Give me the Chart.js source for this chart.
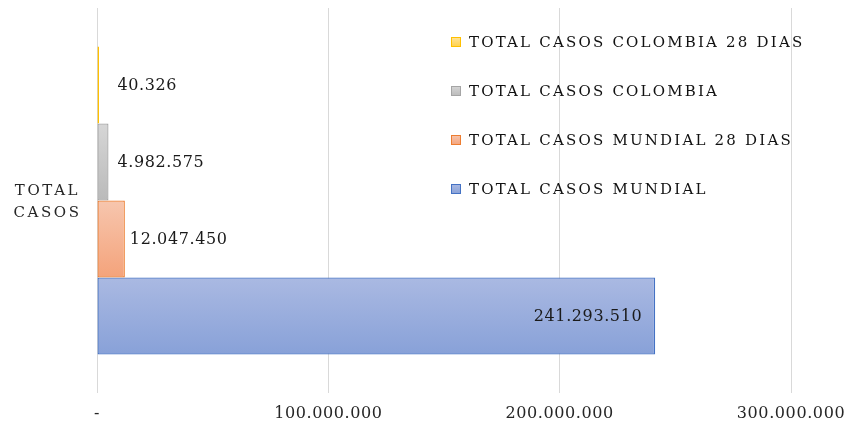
<!DOCTYPE html>
<html lang="es">
<head>
<meta charset="UTF-8">
<title>Total casos</title>
<script src="https://cdn.jsdelivr.net/npm/chart.js"></script>
<style>
  html, body { margin: 0; padding: 0; background: #fff; }
  #wrap { width: 848px; height: 425px; }
</style>
</head>
<body>
<div id="wrap"><canvas id="casosChart"></canvas></div>
<script>
  // datos
  const categorias = [['TOTAL', 'CASOS']];
  const series = ['TOTAL CASOS COLOMBIA 28 DIAS', 'TOTAL CASOS COLOMBIA', 'TOTAL CASOS MUNDIAL 28 DIAS', 'TOTAL CASOS MUNDIAL'];
  const valores = [40326, 4982575, 12047450, 241293510];
  const ejeMax = 300000000;
  const ejePaso = 100000000;

  // colores (borde, arriba y abajo del degradado)
  const bordes = ['#ffc000', '#a5a5a5', '#ed7d31', '#4472c4'];
  const arriba = ['#ffe59c', '#d6d6d6', '#f7c6ae', '#aab9e2'];
  const abajo = ['#ffd04a', '#bababa', '#f4a37b', '#88a1d8'];

  const fuente = '"DejaVu Serif", serif';

  function puntos(n) {
    if (n === 0) return '-';
    return String(n).replace(/\B(?=(\d{3})+(?!\d))/g, '.');
  }

  function degradado(c) {
    const el = c.chart.getDatasetMeta(c.datasetIndex).data[c.dataIndex];
    const i = c.datasetIndex;
    if (!el || el.y === undefined || isNaN(el.y)) return abajo[i];
    const g = c.chart.ctx.createLinearGradient(0, el.y - el.height / 2, 0, el.y + el.height / 2);
    g.addColorStop(0, arriba[i]);
    g.addColorStop(1, abajo[i]);
    return g;
  }

  // un poco de espacio entre letras, como en el original
  const espaciado = {
    id: 'espaciado',
    beforeDraw(chart) { chart.ctx.letterSpacing = '0.6px'; },
    afterDraw(chart) { chart.ctx.letterSpacing = '0px'; }
  };

  const etiquetas = {
    id: 'etiquetas',
    afterDatasetsDraw(chart) {
      const ctx = chart.ctx;
      ctx.save();
      ctx.font = '16px ' + fuente;
      ctx.letterSpacing = '0.6px';
      ctx.fillStyle = '#1a1a1a';
      ctx.textBaseline = 'middle';
      chart.data.datasets.forEach((ds, i) => {
        const bar = chart.getDatasetMeta(i).data[0];
        const txt = puntos(ds.data[0]);
        const w = ctx.measureText(txt).width;
        if (bar.x - bar.base > w + 30) {
          ctx.textAlign = 'right';
          ctx.fillText(txt, bar.x - 13, bar.y + 1);
        } else {
          ctx.textAlign = 'left';
          ctx.fillText(txt, Math.max(bar.x + 5, bar.base + 20), bar.y + 1);
        }
      });

      // etiqueta de la categoria
      const ys = chart.scales.y;
      const lineas = chart.data.labels[0];
      ctx.font = '15px ' + fuente;
      ctx.letterSpacing = '2.6px';
      ctx.textAlign = 'center';
      ctx.fillStyle = '#262626';
      const cy = ys.getPixelForValue(0) + 2;
      lineas.forEach((t, k) => {
        ctx.fillText(t, ys.left + ys.width / 2 - 1, cy + (k - (lineas.length - 1) / 2) * 22);
      });
      ctx.restore();
    }
  };

  const leyenda = {
    id: 'leyenda',
    afterDraw(chart) {
      const ctx = chart.ctx;
      const a = chart.chartArea;
      ctx.save();
      ctx.font = '15px ' + fuente;
      ctx.letterSpacing = '2.2px';
      ctx.textBaseline = 'middle';
      ctx.textAlign = 'left';
      chart.data.datasets.forEach((ds, i) => {
        const y = a.top + 34 + i * 49;
        const x = a.left + 354;
        const g = ctx.createLinearGradient(0, y - 5, 0, y + 5);
        g.addColorStop(0, arriba[i]);
        g.addColorStop(1, abajo[i]);
        ctx.fillStyle = g;
        ctx.fillRect(x, y - 5, 10, 10);
        ctx.strokeStyle = bordes[i];
        ctx.lineWidth = 1;
        ctx.strokeRect(x + 0.5, y - 4.5, 9, 9);
        ctx.fillStyle = '#111111';
        ctx.fillText(ds.label, x + 18, y + 1);
      });
      ctx.restore();
    }
  };

  const chart = new Chart(document.getElementById('casosChart'), {
    type: 'bar',
    data: {
      labels: categorias,
      datasets: series.map((s, i) => ({
        label: s,
        data: [valores[i]],
        backgroundColor: degradado,
        borderColor: bordes[i],
        borderWidth: 1.3,
        borderSkipped: false,
        minBarLength: 2,
        barPercentage: 1,
        categoryPercentage: 0.8
      }))
    },
    options: {
      indexAxis: 'y',
      responsive: true,
      maintainAspectRatio: false,
      animation: false,
      layout: { padding: { top: 8, right: 57, bottom: 0, left: 0 } },
      plugins: {
        legend: { display: false },
        tooltip: { enabled: false }
      },
      scales: {
        x: {
          min: 0,
          max: ejeMax,
          border: { display: false },
          grid: { color: '#d9d9d9', lineWidth: 1, drawTicks: false },
          ticks: {
            stepSize: ejePaso,
            callback: v => puntos(v),
            font: { family: fuente, size: 16 },
            color: '#262626',
            padding: 11
          },
          afterFit(scale) {
            scale.height = 32;
            scale.paddingLeft = 0;
            scale.paddingRight = 0;
          }
        },
        y: {
          border: { display: false },
          grid: { display: false, drawTicks: false },
          ticks: { display: false },
          afterFit(scale) {
            scale.width = 97;
            scale.paddingTop = 0;
            scale.paddingBottom = 0;
          }
        }
      }
    },
    plugins: [espaciado, etiquetas, leyenda]
  });
  chart.update('none');
</script>
</body>
</html>
